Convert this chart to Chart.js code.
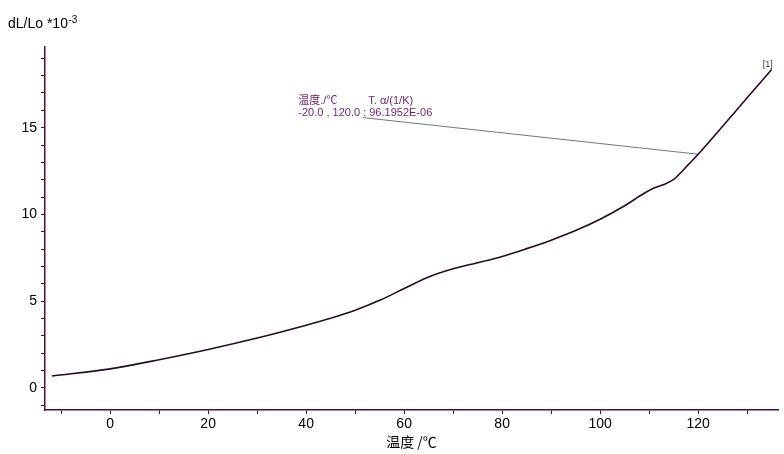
<!DOCTYPE html>
<html>
<head>
<meta charset="utf-8">
<script src="https://cdn.jsdelivr.net/npm/chart.js@4.4.1/dist/chart.umd.min.js"></script>
<style>
  html, body { margin: 0; padding: 0; background: #fff; }
  #wrap { width: 784px; height: 454px; }
</style>
</head>
<body>
<div id="wrap"><canvas id="dilChart" width="784" height="454"></canvas></div>
<script>
// dL/Lo (*10^-3)
const temps = [-11.9, 0, 10, 20, 30, 40, 45, 50, 55, 60, 65, 70, 75, 80, 85, 90, 95, 100, 105, 109, 111, 113, 115, 116.5, 118, 120, 125, 130, 135];
const dlValues = [0.69, 1.1, 1.63, 2.22, 2.88, 3.62, 4.02, 4.48, 5.05, 5.73, 6.4, 6.87, 7.22, 7.58, 8.03, 8.52, 9.07, 9.72, 10.5, 11.22, 11.52, 11.72, 12.02, 12.42, 12.87, 13.47, 15.08, 16.72, 18.35];

// leader line of the alpha annotation
const leaderTemps = [51.6, 120];
const leaderValues = [15.58, 13.47];

const xLabelStep = 20;
const yLabelStep = 5;
const noteLine1 = ['温度./℃', 'T. α/(1/K)'];
const noteLine2 = '-20.0 , 120.0 : 96.1952E-06';
const curveTag = '[1]';

const axisColor = '#4a0d3a';
const curveColor = '#2a0828';
const noteColor = '#6b1f6b';

const toPoints = (xs, ys) => xs.map((x, i) => ({ x: x, y: ys[i] }));

const textPlugin = {
  id: 'texts',
  afterDraw(chart) {
    const ctx = chart.ctx;
    const xs = chart.scales.x;
    const ys = chart.scales.y;
    ctx.save();

    // y axis title with superscript
    ctx.fillStyle = '#000';
    ctx.textBaseline = 'alphabetic';
    ctx.textAlign = 'left';
    ctx.font = '14px Arial, "Liberation Sans", sans-serif';
    ctx.fillText('dL/Lo *10', 8, 28);
    const w = ctx.measureText('dL/Lo *10').width;
    ctx.font = '10px Arial, "Liberation Sans", sans-serif';
    ctx.fillText('-3', 8 + w + 0.5, 23);

    // annotation text
    ctx.fillStyle = noteColor;
    ctx.font = '11px Arial, "Liberation Sans", "Noto Sans CJK SC", sans-serif';
    const nx = xs.getPixelForValue(38.4);
    const ny = ys.getPixelForValue(16.35);
    ctx.fillText(noteLine1[0], nx, ny);
    ctx.fillText(noteLine1[1], nx + 70, ny);
    ctx.fillText(noteLine2, nx, ny + 12);

    // curve tag
    ctx.fillStyle = '#333';
    ctx.font = '9px Arial, "Liberation Sans", sans-serif';
    ctx.textAlign = 'center';
    const last = temps.length - 1;
    ctx.fillText(curveTag, xs.getPixelForValue(temps[last]) - 4, ys.getPixelForValue(dlValues[last]) - 3);

    ctx.restore();
  }
};

const bgPlugin = {
  id: 'bg',
  beforeDraw(chart) {
    const ctx = chart.ctx;
    ctx.save();
    ctx.fillStyle = '#fff';
    ctx.fillRect(0, 0, chart.width, chart.height);
    ctx.restore();
  }
};

new Chart(document.getElementById('dilChart').getContext('2d'), {
  type: 'line',
  data: {
    datasets: [{
      data: toPoints(temps, dlValues),
      borderColor: curveColor,
      borderWidth: 1.6,
      pointRadius: 0,
      cubicInterpolationMode: 'monotone',
      fill: false
    }, {
      data: toPoints(leaderTemps, leaderValues),
      borderColor: '#555',
      borderWidth: 0.8,
      pointRadius: 0,
      fill: false
    }]
  },
  options: {
    responsive: false,
    animation: false,
    layout: { padding: { left: 0, top: 47, right: 6, bottom: 0 } },
    plugins: {
      legend: { display: false },
      tooltip: { enabled: false }
    },
    scales: {
      x: {
        type: 'linear',
        min: -13.3,
        max: 136.3,
        afterFit(scale) { scale.height = 44; },
        border: { color: axisColor, width: 1.5 },
        grid: { drawOnChartArea: false, drawTicks: true, tickLength: 4, color: axisColor },
        ticks: {
          stepSize: 10,
          includeBounds: false,
          autoSkip: false,
          maxRotation: 0,
          padding: 2,
          color: '#000',
          font: { family: 'Arial, "Liberation Sans", sans-serif', size: 14 },
          callback: v => (v % xLabelStep === 0 ? String(v) : '')
        },
        title: {
          display: true,
          text: '温度 /℃',
          color: '#000',
          padding: { top: 0, bottom: 4 },
          font: { family: '"Noto Sans CJK SC", sans-serif', size: 14 }
        }
      },
      y: {
        type: 'linear',
        min: -1.27,
        max: 19.65,
        afterFit(scale) { scale.width = 45; },
        border: { color: axisColor, width: 1.5 },
        grid: { drawOnChartArea: false, drawTicks: true, tickLength: 4, color: axisColor },
        ticks: {
          stepSize: 1,
          includeBounds: false,
          autoSkip: false,
          padding: 4,
          color: '#000',
          font: { family: 'Arial, "Liberation Sans", sans-serif', size: 14 },
          callback: v => (v % yLabelStep === 0 ? String(v) : '')
        }
      }
    }
  },
  plugins: [bgPlugin, textPlugin]
});
</script>
</body>
</html>
